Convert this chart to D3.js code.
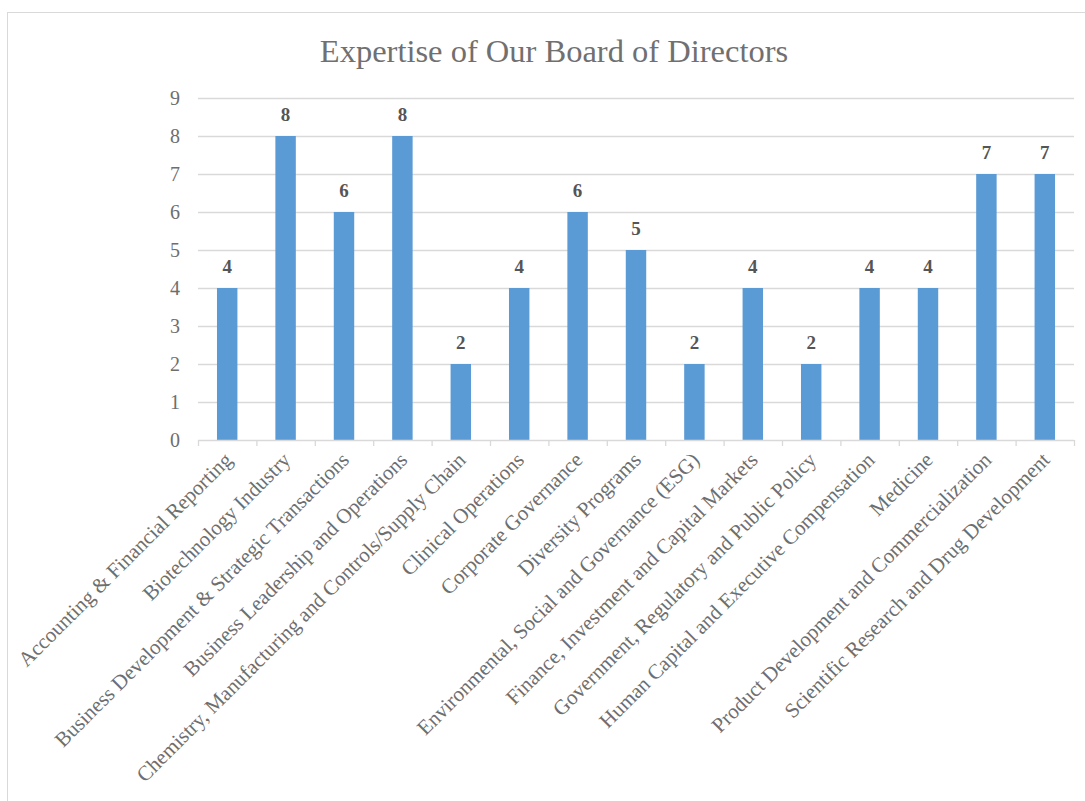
<!DOCTYPE html>
<html>
<head>
<meta charset="utf-8">
<script src="https://cdn.jsdelivr.net/npm/d3@7"></script>
<style>
  body { margin: 0; background: #fff; }
  svg { display: block; font-family: 'Liberation Serif', 'Times New Roman', serif; }
</style>
</head>
<body>
<svg id="chart" width="1085" height="801"></svg>
<script>
const categories = [
  'Accounting & Financial Reporting',
  'Biotechnology Industry',
  'Business Development & Strategic Transactions',
  'Business Leadership and Operations',
  'Chemistry, Manufacturing and Controls/Supply Chain',
  'Clinical Operations',
  'Corporate Governance',
  'Diversity Programs',
  'Environmental, Social and Governance (ESG)',
  'Finance, Investment and Capital Markets',
  'Government, Regulatory and Public Policy',
  'Human Capital and Executive Compensation',
  'Medicine',
  'Product Development and Commercialization',
  'Scientific Research and Drug Development'
]
const values = [4, 8, 6, 8, 2, 4, 6, 5, 2, 4, 2, 4, 4, 7, 7]
const yTicks = [0, 1, 2, 3, 4, 5, 6, 7, 8, 9]
const title = 'Expertise of Our Board of Directors'

const svg = d3.select('#chart')

// рамка
svg.append('rect')
  .attr('x', 7.5).attr('y', 12.5)
  .attr('width', 1100).attr('height', 820)
  .attr('fill', 'none')
  .attr('stroke', '#d9d9d9')

const margin = {left: 198, right: 11, top: 98, bottom: 361}
const width = 1085 - margin.left - margin.right
const height = 801 - margin.top - margin.bottom

const g = svg.append('g')
  .attr('transform', 'translate(' + margin.left + ',' + margin.top + ')')

const x = d3.scaleBand()
  .domain(categories)
  .range([0, width])
  .paddingInner(0.65)
  .paddingOuter(0.325)

const y = d3.scaleLinear()
  .domain([0, 9])
  .range([height, 0])

// сетка
g.append('g')
  .selectAll('line')
  .data(yTicks.slice(1))
  .enter().append('line')
  .attr('x1', 0).attr('x2', width)
  .attr('y1', d => y(d) + 0.5).attr('y2', d => y(d) + 0.5)
  .attr('stroke', '#d9d9d9')
  .attr('stroke-width', 1.3)

// ось y
const gY = g.append('g')
  .call(d3.axisLeft(y).tickValues(yTicks).tickSize(0).tickPadding(18))
gY.select('.domain').remove()
gY.selectAll('text')
  .attr('font-family', "'Liberation Serif', serif")
  .attr('font-size', 20)
  .attr('fill', '#6e6e6e')

// столбцы
g.selectAll('.bar')
  .data(values)
  .enter().append('rect')
  .attr('class', 'bar')
  .attr('x', (d, i) => x(categories[i]))
  .attr('width', x.bandwidth())
  .attr('y', d => y(d))
  .attr('height', d => height - y(d))
  .attr('fill', '#5b9bd5')

// подписи значений
g.selectAll('.val')
  .data(values)
  .enter().append('text')
  .attr('class', 'val')
  .attr('x', (d, i) => x(categories[i]) + x.bandwidth() / 2)
  .attr('y', d => y(d) - 15)
  .attr('text-anchor', 'middle')
  .attr('font-size', 19)
  .attr('font-weight', 'bold')
  .attr('fill', '#555')
  .text(d => d)

// ось x
const step = x.step()
const gX = g.append('g')
  .attr('transform', 'translate(0,' + height + ')')
gX.append('line')
  .attr('x1', 0).attr('x2', width)
  .attr('y1', 0.5).attr('y2', 0.5)
  .attr('stroke', '#d9d9d9')
  .attr('stroke-width', 1.3)
gX.selectAll('.tk')
  .data(d3.range(categories.length + 1))
  .enter().append('line')
  .attr('x1', d => d * step + 0.5).attr('x2', d => d * step + 0.5)
  .attr('y1', 0).attr('y2', 6)
  .attr('stroke', '#d9d9d9')
  .attr('stroke-width', 1.3)

gX.selectAll('.cat')
  .data(categories)
  .enter().append('text')
  .attr('class', 'cat')
  .attr('transform', d => 'translate(' + (x(d) + x.bandwidth() / 2 + 1) + ',16) rotate(-45)')
  .attr('text-anchor', 'end')
  .attr('dy', '0.35em')
  .attr('font-size', 21)
  .attr('fill', '#6e6e6e')
  .text(d => d)

// заголовок
svg.append('text')
  .attr('x', 554)
  .attr('y', 62)
  .attr('text-anchor', 'middle')
  .attr('font-size', 32.5)
  .attr('fill', '#707070')
  .text(title)
</script>
</body>
</html>
